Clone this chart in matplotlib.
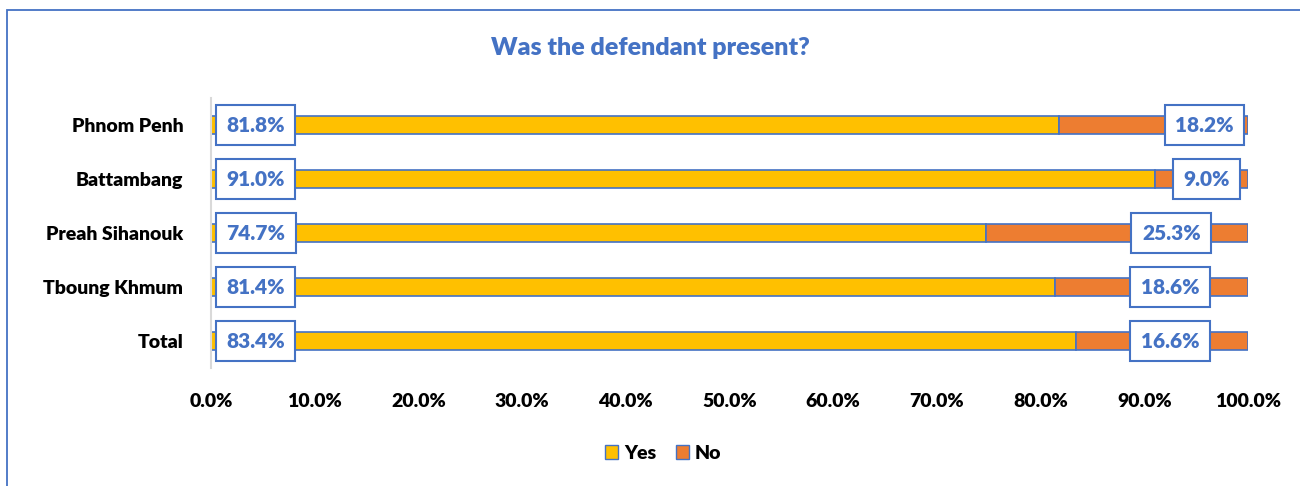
import matplotlib
matplotlib.use("Agg")
import matplotlib.pyplot as plt
from matplotlib.patches import Rectangle, Patch

plt.rcParams['font.family'] = ['Lato', 'DejaVu Sans']

categories = ["Phnom Penh", "Battambang", "Preah Sihanouk", "Tboung Khmum", "Total"]
yes_vals = [81.8, 91.0, 74.7, 81.4, 83.4]
no_vals = [18.2, 9.0, 25.3, 18.6, 16.6]
xticks = [0, 10, 20, 30, 40, 50, 60, 70, 80, 90, 100]
title = "Was the defendant present?"

# label positions (layout only)
yes_label_x = [4.3, 4.3, 4.3, 4.3, 4.3]
no_label_x = [95.8, 96.0, 92.6, 92.5, 92.5]

YES_C = "#FFC000"
NO_C = "#ED7D31"
BLUE = "#4472C4"

fig = plt.figure(figsize=(13, 4.86), dpi=100)
ax = fig.add_axes([211/1300, 1-368/486, (1248-211)/1300, 270/486])

y = list(range(len(categories)))
ax.barh(y, yes_vals, height=0.33, color=YES_C, edgecolor=BLUE, linewidth=1.2, label="Yes")
ax.barh(y, no_vals, left=yes_vals, height=0.33, color=NO_C, edgecolor=BLUE, linewidth=1.2, label="No")

box = dict(boxstyle="square,pad=0.5", facecolor="white", edgecolor=BLUE, linewidth=1.5)
for i in range(len(categories)):
    ax.text(yes_label_x[i], y[i], f"{yes_vals[i]:.1f}%", ha="center", va="center",
            color=BLUE, fontsize=15, fontweight="heavy", bbox=box, zorder=5)
    ax.text(no_label_x[i], y[i], f"{no_vals[i]:.1f}%", ha="center", va="center",
            color=BLUE, fontsize=15, fontweight="heavy", bbox=box, zorder=5)

ax.set_xlim(0, 100)
ax.set_ylim(len(categories) - 0.5, -0.5)
ax.set_yticks(y)
ax.set_yticklabels(categories, fontsize=14, fontweight="heavy")
ax.set_xticks(xticks)
ax.set_xticklabels([f"{t:.1f}%" for t in xticks], fontsize=14, fontweight="heavy")
ax.tick_params(axis="both", length=0)
ax.tick_params(axis="y", pad=20)
ax.tick_params(axis="x", pad=18)
for s in ["top", "right", "bottom"]:
    ax.spines[s].set_visible(False)
ax.spines["left"].set_color("#D9D9D9")
ax.spines["left"].set_linewidth(1.5)

fig.text(0.5, 1-48/486, title, ha="center", va="center", color=BLUE,
         fontsize=18, fontweight="heavy")

handles = [Patch(facecolor=YES_C, edgecolor=BLUE, label="Yes"),
           Patch(facecolor=NO_C, edgecolor=BLUE, label="No")]
fig.legend(handles=handles, loc="center", bbox_to_anchor=(663/1300, 1-453/486), ncol=2,
           frameon=False, prop={"weight": "heavy", "size": 14},
           handlelength=0.7, handleheight=0.7, handletextpad=0.3, columnspacing=1.0)

fig.patches.append(Rectangle((7/1300, -0.1), 1.2, 1-10/486 + 0.1, transform=fig.transFigure,
                             fill=False, edgecolor=BLUE, linewidth=1.3))

fig.savefig("out.png", dpi=100)
